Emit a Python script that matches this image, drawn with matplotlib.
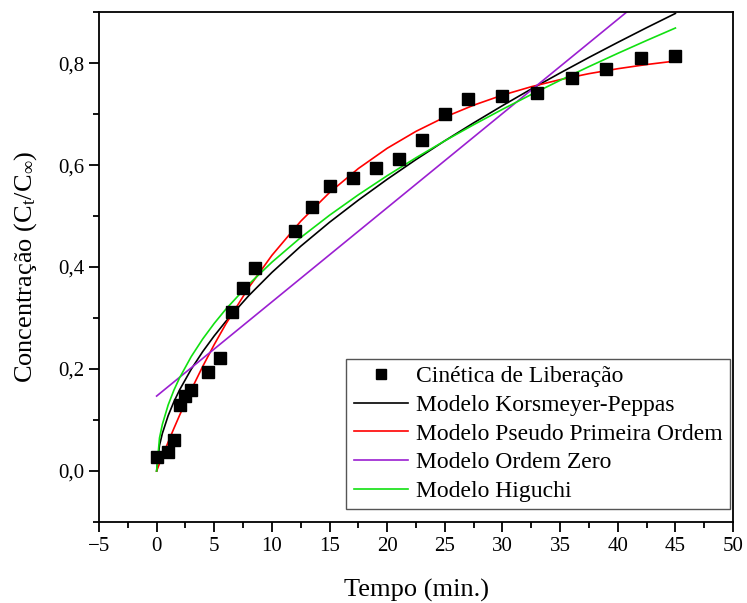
import matplotlib
matplotlib.use("Agg")
import matplotlib.pyplot as plt
from matplotlib.ticker import MultipleLocator, FuncFormatter

plt.rcParams['font.family'] = ['Liberation Serif', 'DejaVu Serif']
plt.rcParams['mathtext.fontset'] = 'custom'
plt.rcParams['mathtext.rm'] = 'Liberation Serif'
plt.rcParams['mathtext.it'] = 'Liberation Serif:italic'

# pontos experimentais
tempo = [0, 1, 1.5, 2, 2.5, 3, 4.5, 5.5, 6.5, 7.5, 8.5, 12, 13.5, 15, 17, 19,
         21, 23, 25, 27, 30, 33, 36, 39, 42, 45]
conc = [0.027, 0.038, 0.06, 0.13, 0.148, 0.158, 0.194, 0.222, 0.312, 0.358,
        0.398, 0.47, 0.518, 0.559, 0.574, 0.594, 0.612, 0.649, 0.70, 0.729,
        0.735, 0.741, 0.77, 0.788, 0.81, 0.813]

# curvas dos modelos
t_mod = [0, 0.25, 0.5, 1, 1.5, 2, 3, 4, 5, 6, 8, 10, 12.5, 15, 17.5, 20,
         22.5, 25, 27.5, 30, 32.5, 35, 37.5, 40, 42.5, 45]
korsmeyer = [0, 0.0503, 0.0739, 0.1085, 0.1359, 0.1594, 0.1996, 0.2342,
             0.2651, 0.2933, 0.3441, 0.3894, 0.4408, 0.4878, 0.5312, 0.5721,
             0.6108, 0.6476, 0.6827, 0.7165, 0.7491, 0.7805, 0.8110, 0.8405,
             0.8693, 0.8973]
pseudo1 = [0, 0.0146, 0.0289, 0.0568, 0.0836, 0.1097, 0.1591, 0.2052,
           0.2481, 0.2881, 0.3602, 0.4229, 0.4898, 0.5461, 0.5932, 0.6329,
           0.6661, 0.6940, 0.7174, 0.7371, 0.7536, 0.7675, 0.7792, 0.7889,
           0.7971, 0.8040]
higuchi = [0, 0.0648, 0.0916, 0.1295, 0.1586, 0.1831, 0.2243, 0.2590,
           0.2896, 0.3172, 0.3663, 0.4095, 0.4579, 0.5016, 0.5417, 0.5791,
           0.6143, 0.6475, 0.6791, 0.7093, 0.7383, 0.7661, 0.7930, 0.8190,
           0.8442, 0.8687]
t_zero = [0, 45]
ordem_zero = [0.147, 0.978]

fig = plt.figure(figsize=(7.47, 6.03), dpi=100)
ax = fig.add_axes([0.1325, 0.1343, 0.8488, 0.8457])

ax.plot(tempo, conc, 's', color='black', markersize=9, label='Cinética de Liberação', zorder=3)
ax.plot(t_mod, korsmeyer, color='black', lw=1.2, label='Modelo Korsmeyer-Peppas')
ax.plot(t_mod, pseudo1, color='#ff0000', lw=1.2, label='Modelo Pseudo Primeira Ordem')
ax.plot(t_zero, ordem_zero, color='#9b1fd1', lw=1.2, label='Modelo Ordem Zero')
ax.plot(t_mod, higuchi, color='#11e011', lw=1.2, label='Modelo Higuchi')

ax.set_xlim(-5, 50)
ax.set_ylim(-0.1, 0.9)
ax.xaxis.set_major_locator(MultipleLocator(5))
ax.xaxis.set_minor_locator(MultipleLocator(2.5))
ax.yaxis.set_major_locator(MultipleLocator(0.2))
ax.yaxis.set_minor_locator(MultipleLocator(0.1))
ax.yaxis.set_major_formatter(FuncFormatter(lambda v, p: f"{v:.1f}".replace('.', ',')))
ax.xaxis.set_major_formatter(FuncFormatter(lambda v, p: f"{v:.0f}".replace('-', '\u2212')))

ax.tick_params(which='both', direction='out', width=1.3, labelsize=15)
ax.tick_params(which='major', length=7)
ax.tick_params(which='minor', length=4)
for s in ax.spines.values():
    s.set_linewidth(1.3)

ax.set_xlabel('Tempo (min.)', fontsize=19, labelpad=17)
ax.set_ylabel('Concentração (C$_\\mathrm{t}$/C$_\\infty$)', fontsize=19, labelpad=14)

leg = ax.legend(loc='upper right', bbox_to_anchor=(0.995, 0.32), borderaxespad=0,
                fontsize=17, fancybox=False, framealpha=1, edgecolor='#555555',
                handlelength=2.3, handletextpad=0.35, labelspacing=0.3,
                borderpad=0.3, markerscale=0.8)
leg.get_frame().set_linewidth(1.0)

fig.savefig('out.png', dpi=100)
